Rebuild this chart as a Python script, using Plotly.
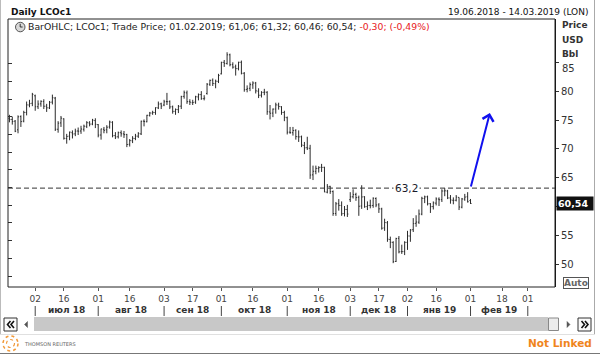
import numpy as np
import pandas as pd
import plotly.graph_objects as go

FONT = "DejaVu Sans"

# ---------------- data ----------------
HOLIDAYS = ["2018-12-25", "2019-01-01"]
FIRST_DAY, LAST_DAY = "2018-06-19", "2019-02-01"
VIEW_START, VIEW_END = "2018-06-18", "2019-03-14"

open_prices = [
    # Jun
    75.3, 75.1, 74.8, 73.3, 75.6, 74.8, 76.3, 77.6, 77.9,
    # Jul
    79.2, 77.3, 77.8, 78.2, 77.4, 77.1, 78.1, 78.8, 73.4, 74.5, 75.2, 71.8, 72.2, 72.8, 72.6, 73.1,
    73.1, 73.4, 73.9, 74.5, 74.3, 74.9,
    # Aug
    74.2, 72.4, 73.4, 73.3, 73.8, 74.6, 72.3, 72.1, 72.8, 72.6, 72.5, 70.8, 71.4, 71.8, 72.2, 72.6,
    74.8, 74.7, 75.8, 76.2, 76.3, 77.1, 77.8,
    # Sep
    77.6, 78.2, 78.2, 77.3, 76.5, 76.8, 77.4, 79.1, 79.7, 78.2, 78.0, 78.1, 79.0, 79.4, 78.7, 79.6,
    81.2, 81.9, 81.3, 81.7,
    # Oct
    83.0, 85.0, 84.8, 86.3, 84.6, 84.2, 83.9, 85.0, 83.1, 80.3, 80.5, 81.1, 81.4, 80.0, 79.3, 79.8,
    79.8, 76.4, 76.2, 76.9, 77.6, 77.3, 76.3,
    # Nov
    75.4, 72.9, 72.8, 73.2, 72.1, 72.1, 70.6, 70.2, 70.1, 65.5, 66.1, 66.6, 66.8, 66.8, 62.5, 63.5,
    62.6, 58.8, 60.5, 60.2, 58.8, 59.5,
    # Dec
    61.2, 61.7, 62.1, 61.6, 60.1, 61.7, 60.0, 60.2, 60.2, 61.4, 60.3, 59.6, 56.3, 57.2, 54.3, 53.8,
    50.5, 54.5, 52.2, 52.2,
    # Jan
    53.8, 54.9, 56.0, 57.1, 57.3, 58.7, 61.4, 61.7, 60.5, 60.0, 60.6, 61.3, 61.2, 62.7, 62.7, 61.5,
    61.1, 61.1, 61.6, 59.9, 61.3, 61.7,
    # Feb
    61.06,
]
high_prices = [
    75.9, 75.6, 75.0, 75.8, 75.8, 76.6, 78.2, 78.5, 79.7,
    79.4, 78.4, 78.4, 78.6, 77.8, 78.3, 79.4, 79.0, 74.8, 75.7, 75.3, 72.6, 73.0, 73.2, 73.5, 73.7,
    74.0, 74.2, 74.8, 74.8, 75.2, 75.3,
    74.3, 73.5, 73.8, 74.1, 74.9, 74.8, 72.9, 73.0, 73.2, 73.1, 72.6, 71.7, 72.2, 72.6, 72.9, 74.9,
    75.1, 75.9, 76.4, 76.6, 77.2, 78.2, 78.0,
    78.5, 79.7, 78.4, 77.5, 77.0, 77.6, 79.2, 80.1, 80.1, 78.6, 78.5, 79.2, 79.6, 80.0, 79.3, 81.4,
    82.0, 82.2, 82.0, 83.0,
    85.1, 85.4, 86.74, 86.5, 85.0, 84.6, 85.1, 85.3, 83.3, 81.0, 81.5, 81.7, 81.6, 80.5, 80.0, 80.4,
    80.0, 77.6, 77.0, 78.0, 78.0, 77.4, 76.6,
    75.6, 73.8, 73.8, 73.4, 73.2, 72.3, 71.2, 72.1, 70.7, 67.1, 67.1, 67.0, 67.4, 66.9, 63.9, 63.6,
    62.8, 60.8, 61.3, 60.9, 60.1, 60.3,
    62.5, 63.0, 62.4, 61.9, 63.7, 61.8, 60.9, 61.2, 61.6, 61.6, 60.6, 59.8, 57.9, 57.5, 54.8, 54.0,
    54.6, 54.9, 53.4, 54.0,
    55.8, 56.1, 58.0, 58.5, 59.5, 61.7, 61.9, 61.9, 60.6, 60.9, 61.6, 61.6, 63.0, 63.2, 62.9, 62.0,
    61.6, 62.0, 61.6, 61.5, 62.2, 62.5,
    61.32,
]
low_prices = [
    74.6, 74.2, 72.9, 72.7, 73.8, 74.6, 75.8, 77.2, 77.4,
    76.6, 76.9, 77.3, 76.9, 76.4, 76.9, 77.7, 73.1, 72.8, 73.8, 71.6, 70.9, 71.5, 71.8, 72.2, 72.4,
    72.6, 73.0, 73.6, 73.9, 74.1, 73.6,
    72.0, 71.6, 72.7, 72.7, 73.5, 72.0, 71.7, 71.8, 72.1, 71.9, 70.3, 70.4, 71.0, 71.5, 71.9, 72.4,
    73.9, 74.6, 75.6, 75.9, 75.9, 76.9, 76.9,
    77.4, 77.6, 76.9, 76.1, 75.9, 76.2, 76.9, 78.7, 77.8, 77.6, 77.6, 77.8, 78.4, 78.5, 78.4, 79.4,
    80.9, 80.9, 80.5, 81.4,
    82.9, 84.2, 84.6, 84.3, 83.9, 82.7, 83.6, 82.9, 79.9, 79.8, 80.0, 80.4, 79.6, 78.8, 78.9, 79.3,
    75.9, 75.1, 75.5, 76.1, 76.8, 75.9, 74.8,
    72.5, 72.6, 72.3, 71.6, 71.2, 70.3, 69.1, 69.8, 64.8, 64.6, 65.6, 65.9, 66.0, 62.5, 62.3, 62.2,
    58.4, 58.4, 59.3, 58.4, 58.3, 58.2,
    60.8, 61.4, 61.0, 58.4, 59.6, 59.8, 59.4, 59.7, 59.8, 59.9, 58.9, 56.0, 55.8, 53.9, 52.8, 50.2,
    50.4, 51.9, 51.8, 51.6,
    52.5, 53.9, 55.6, 56.5, 57.0, 58.5, 60.6, 60.2, 58.9, 59.5, 60.2, 60.1, 60.8, 61.8, 61.3, 60.5,
    60.4, 60.9, 59.4, 59.7, 61.0, 60.7,
    60.46,
]
close_prices = [
    75.08, 74.74, 73.05, 75.55, 74.73, 76.31, 77.62, 77.85, 79.44,
    77.30, 77.76, 78.24, 77.39, 77.11, 78.07, 78.86, 73.40, 74.45, 75.33, 71.84, 72.16, 72.90, 72.58,
    73.07, 73.06, 73.44, 73.93, 74.54, 74.29, 74.97, 74.25,
    72.39, 73.45, 73.21, 73.75, 74.65, 72.28, 72.07, 72.81, 72.61, 72.46, 70.76, 71.43, 71.83, 72.21,
    72.63, 74.78, 74.73, 75.82, 76.21, 76.31, 77.14, 77.77, 77.42,
    78.15, 78.17, 77.27, 76.50, 76.83, 77.37, 79.06, 79.74, 78.18, 78.09, 78.05, 79.03, 79.40, 78.70,
    78.80, 81.20, 81.87, 81.34, 81.72, 82.72,
    84.98, 84.80, 86.29, 84.58, 84.16, 83.91, 85.00, 83.09, 80.26, 80.43, 81.13, 81.41, 80.05, 79.29,
    79.78, 79.83, 76.44, 76.17, 76.89, 77.62, 77.34, 76.31, 75.47,
    72.89, 72.83, 73.17, 72.13, 72.07, 70.65, 70.18, 70.12, 65.47, 66.12, 66.62, 66.76, 66.79, 62.53,
    63.48, 62.60, 58.80, 60.48, 60.21, 58.76, 59.51, 58.71,
    61.69, 62.08, 61.56, 60.06, 61.67, 59.97, 60.20, 60.15, 61.45, 60.28, 59.61, 56.26, 57.24, 54.35,
    53.82, 50.47, 54.47, 52.16, 52.20, 53.80,
    54.91, 55.95, 57.06, 57.33, 58.72, 61.44, 61.68, 60.48, 59.99, 60.64, 61.32, 61.18, 62.70, 62.74,
    61.50, 61.14, 61.09, 61.64, 59.93, 61.32, 61.65, 60.84,
    60.54,
]

dates = pd.bdate_range(FIRST_DAY, LAST_DAY, freq="C", holidays=HOLIDAYS)
n = min(len(dates), len(open_prices), len(high_prices), len(low_prices), len(close_prices))
if not (len(dates) == len(open_prices) == len(high_prices) == len(low_prices) == len(close_prices)):
    print("LENGTH MISMATCH", len(dates), len(open_prices), len(high_prices), len(low_prices), len(close_prices))

TICK_DATES = ["2018-07-02", "2018-07-16", "2018-08-01", "2018-08-16", "2018-09-03", "2018-09-17",
              "2018-10-01", "2018-10-16", "2018-11-01", "2018-11-16", "2018-12-03", "2018-12-17",
              "2019-01-02", "2019-01-16", "2019-02-01", "2019-02-18", "2019-03-01"]
TICK_TEXT = [d[-2:] for d in TICK_DATES]
MONTH_STARTS = ["2018-07-02", "2018-08-01", "2018-09-03", "2018-10-01", "2018-11-01",
                "2018-12-03", "2019-01-02", "2019-02-01", "2019-03-01"]
MONTH_LABELS = ["июл 18", "авг 18", "сен 18", "окт 18", "ноя 18", "дек 18", "янв 19", "фев 19"]

Y_TICKS = [50, 55, 60, 65, 70, 75, 80, 85]
LEVEL = 63.2
LEVEL_LABEL_DATE = "2018-12-31 12:00"
ARROW_TIP_DATE, ARROW_TIP_VALUE = "2019-02-11 18:00", 76.2

# ---------------- geometry helpers ----------------
W, H = 600, 355
L, R, T, B = 8, 555, 19, 287
Y_MIN, Y_MAX = 46.07, 92.5


def px(x):
    return (x - L) / (R - L)


def py(y):
    return (B - y) / (B - T)


TOTAL_TD = np.busday_count(VIEW_START, VIEW_END, holidays=HOLIDAYS)


def xfrac(d):
    return (np.busday_count(VIEW_START, d, holidays=HOLIDAYS) - 0.5) / TOTAL_TD


def fmt(v):
    return f"{v:.2f}".replace(".", ",")


def path(points, close=False):
    s = "M " + " L ".join(f"{px(x):.5f},{py(y):.5f}" for x, y in points)
    return s + (" Z" if close else "")


# ---------------- figure ----------------
fig = go.Figure()
bar_line = dict(color="#2b2b2b", width=1)
fig.add_trace(go.Ohlc(
    x=dates[:n], open=open_prices[:n], high=high_prices[:n], low=low_prices[:n], close=close_prices[:n],
    increasing=dict(line=bar_line), decreasing=dict(line=bar_line),
    tickwidth=0.35, hoverinfo="skip", showlegend=False,
))
# empty trace so that the secondary (left tick) axis gets drawn
fig.add_trace(go.Scatter(x=[], y=[], yaxis="y2", hoverinfo="skip", showlegend=False))

shapes = []
annotations = []

# plot frame
shapes.append(dict(type="rect", xref="paper", yref="paper", x0=0, x1=1, y0=0, y1=1,
                   line=dict(color="#222", width=1), layer="above"))
# horizontal level
shapes.append(dict(type="line", xref="paper", yref="y", x0=0, x1=1, y0=LEVEL, y1=LEVEL,
                   line=dict(color="#333", width=1, dash="5px,3px"), layer="above"))
annotations.append(dict(x=LEVEL_LABEL_DATE, y=LEVEL, xref="x", yref="y", text=fmt(LEVEL)[:-1],
                        showarrow=False, bgcolor="white", borderpad=1,
                        font=dict(family=FONT, size=10.5, color="#1a1a2a")))
# arrow
annotations.append(dict(x=ARROW_TIP_DATE, y=ARROW_TIP_VALUE, xref="x", yref="y",
                        ax=dates[n - 1], ay=LEVEL, axref="x", ayref="y", text="",
                        showarrow=True, arrowhead=4, arrowsize=1.1, arrowwidth=2,
                        arrowcolor="#1010ee", standoff=0, startstandoff=0))

# month separators and labels
for d in MONTH_STARTS:
    xf = xfrac(d)
    shapes.append(dict(type="line", xref="paper", yref="paper", x0=xf, x1=xf, y0=py(306), y1=py(316),
                       line=dict(color="#444", width=1)))
for i, lab in enumerate(MONTH_LABELS):
    xm = (xfrac(MONTH_STARTS[i]) + xfrac(MONTH_STARTS[i + 1])) / 2
    annotations.append(dict(x=xm, y=py(310), xref="paper", yref="paper", text=f"<b>{lab}</b>",
                            showarrow=False, xanchor="center", yanchor="middle",
                            font=dict(family=FONT, size=9, color="#333")))

# header
annotations.append(dict(x=px(9), y=py(12), xref="paper", yref="paper", text="<b>Daily LCOc1</b>",
                        showarrow=False, xanchor="left", yanchor="middle",
                        font=dict(family=FONT, size=9, color="#111")))
rng_txt = (pd.Timestamp(FIRST_DAY).strftime("%d.%m.%Y") + " - " +
           pd.Timestamp(VIEW_END).strftime("%d.%m.%Y") + " (LON)")
annotations.append(dict(x=px(590), y=py(12), xref="paper", yref="paper", text=rng_txt,
                        showarrow=False, xanchor="right", yanchor="middle",
                        font=dict(family=FONT, size=9, color="#111")))

# legend line
last_o, last_h, last_l, last_c = open_prices[n - 1], high_prices[n - 1], low_prices[n - 1], close_prices[n - 1]
prev_c = close_prices[n - 2]
chg = last_c - prev_c
pct = chg / prev_c * 100
legend_txt = (f"BarOHLC; LCOc1; Trade Price; {dates[n - 1].strftime('%d.%m.%Y')}; "
              f"{fmt(last_o)}; {fmt(last_h)}; {fmt(last_l)}; {fmt(last_c)}; "
              f"<span style='color:#e8201c'>{fmt(chg)}; ({fmt(pct)}%)</span>")
annotations.append(dict(x=px(26), y=py(27), xref="paper", yref="paper", text=legend_txt,
                        showarrow=False, xanchor="left", yanchor="middle",
                        font=dict(family=FONT, size=9.3, color="#222")))
# clock icon
shapes.append(dict(type="circle", xref="paper", yref="paper", x0=px(15.5), x1=px(25), y0=py(22.3), y1=py(31.8),
                   fillcolor="#d8d8d8", line=dict(color="#555", width=1)))
shapes.append(dict(type="line", xref="paper", yref="paper", x0=px(20.2), x1=px(20.2), y0=py(27), y1=py(23.8),
                   line=dict(color="#333", width=1)))
shapes.append(dict(type="line", xref="paper", yref="paper", x0=px(20.2), x1=px(22.6), y0=py(27), y1=py(27),
                   line=dict(color="#333", width=1)))

# right axis title
for txt, yy in (("Price", 25), ("USD", 39.5), ("Bbl", 54)):
    annotations.append(dict(x=px(560), y=py(yy), xref="paper", yref="paper", text=f"<b>{txt}</b>",
                            showarrow=False, xanchor="left", yanchor="middle",
                            font=dict(family=FONT, size=9, color="#333")))
# top tick label pushed below the axis title (as in the original)
annotations.append(dict(x=px(560), y=py(68.5), xref="paper", yref="paper", text=str(Y_TICKS[-1]),
                        showarrow=False, xanchor="left", yanchor="middle",
                        font=dict(family=FONT, size=10, color="#333")))
# last price tag
annotations.append(dict(x=px(556), y=last_c, xref="paper", yref="y", text=f"<b>{fmt(last_c)}</b>",
                        showarrow=False, xanchor="left", yanchor="middle", align="left",
                        bgcolor="#111", borderpad=1, width=34,
                        font=dict(family=FONT, size=9.5, color="white")))
# Auto box
annotations.append(dict(x=px(575.5), y=py(282.5), xref="paper", yref="paper", text="<b>Auto</b>",
                        showarrow=False, xanchor="center", yanchor="middle",
                        bordercolor="#555", borderwidth=1, borderpad=0, bgcolor="white",
                        font=dict(family=FONT, size=9, color="#666")))


# scrollbar
def rect(x0, y0, x1, y1, fill, line="rgba(0,0,0,0)", lw=1):
    shapes.append(dict(type="rect", xref="paper", yref="paper", x0=px(x0), x1=px(x1), y0=py(y1), y1=py(y0),
                       fillcolor=fill, line=dict(color=line, width=lw)))


rect(34, 317, 548, 331, "#c8c8c8")
rect(548.5, 318, 558.5, 330.5, "#ececec", "#888")
rect(4, 318, 17, 331, "#fafafa", "#333")
rect(578, 318, 591, 331, "#fafafa", "#333")
chev = dict(color="#111", width=1.6)
for cx in (7.5, 11.0):       # «
    shapes.append(dict(type="path", xref="paper", yref="paper",
                       path=path([(cx + 3, 321), (cx, 324.5), (cx + 3, 328)]), line=chev))
for cx in (588.0, 584.5):    # »
    shapes.append(dict(type="path", xref="paper", yref="paper",
                       path=path([(cx - 3, 321), (cx, 324.5), (cx - 3, 328)]), line=chev))
shapes.append(dict(type="path", xref="paper", yref="paper",
                   path=path([(27.5, 321.5), (24.5, 324.5), (27.5, 327.5)], close=True),
                   fillcolor="#555", line=dict(color="#555", width=0.5)))
shapes.append(dict(type="path", xref="paper", yref="paper",
                   path=path([(567, 321.5), (570, 324.5), (567, 327.5)], close=True),
                   fillcolor="#555", line=dict(color="#555", width=0.5)))

# outer borders / footer
shapes.append(dict(type="line", xref="paper", yref="paper", x0=px(0), x1=px(600), y0=py(353.5), y1=py(353.5),
                   line=dict(color="#777", width=1)))
shapes.append(dict(type="line", xref="paper", yref="paper", x0=px(594.5), x1=px(594.5), y0=py(0), y1=py(334),
                   line=dict(color="#aaa", width=1)))
shapes.append(dict(type="line", xref="paper", yref="paper", x0=px(0.5), x1=px(0.5), y0=py(0), y1=py(334),
                   line=dict(color="#bbb", width=1)))
shapes.append(dict(type="line", xref="paper", yref="paper", x0=px(0), x1=px(595), y0=py(334.5), y1=py(334.5),
                   line=dict(color="#e0e0e0", width=1)))
# logo
shapes.append(dict(type="circle", xref="paper", yref="paper", x0=px(3), x1=px(18), y0=py(336), y1=py(351),
                   line=dict(color="#f29a3a", width=1.5, dash="dot")))
shapes.append(dict(type="circle", xref="paper", yref="paper", x0=px(6.5), x1=px(14.5), y0=py(339.5), y1=py(347.5),
                   line=dict(color="#f29a3a", width=1.2, dash="dot")))
annotations.append(dict(x=px(21.5), y=py(344), xref="paper", yref="paper", text="THOMSON REUTERS",
                        showarrow=False, xanchor="left", yanchor="middle",
                        font=dict(family=FONT, size=5, color="#666")))
annotations.append(dict(x=px(594), y=py(342.5), xref="paper", yref="paper", text="<b>Not Linked</b>",
                        showarrow=False, xanchor="right", yanchor="middle",
                        font=dict(family=FONT, size=10.5, color="#f0851c")))

y_text = ["" if v in (60, 85) else str(v) for v in Y_TICKS]

fig.update_layout(
    width=W, height=H, autosize=False,
    margin=dict(l=L, r=W - R, t=T, b=H - B, pad=0),
    paper_bgcolor="white", plot_bgcolor="white", showlegend=False,
    font=dict(family=FONT, size=9, color="#333"),
    xaxis=dict(type="date", range=[VIEW_START + " 12:00", VIEW_END + " 12:00"],
               rangebreaks=[dict(bounds=["sat", "mon"]), dict(values=HOLIDAYS)],
               rangeslider=dict(visible=False), tickmode="array", tickvals=TICK_DATES, ticktext=TICK_TEXT,
               ticks="outside", ticklen=3, tickcolor="#555", tickfont=dict(family=FONT, size=9, color="#444"),
               showgrid=False, zeroline=False, showline=False, fixedrange=True),
    yaxis=dict(side="right", range=[Y_MIN, Y_MAX], tickmode="array", tickvals=Y_TICKS,
               ticktext=y_text, ticks="outside", ticklen=3, tickcolor="#333",
               tickfont=dict(family=FONT, size=10, color="#333"), showline=True, linecolor="#111",
               linewidth=1, showgrid=False, zeroline=False, fixedrange=True),
    yaxis2=dict(overlaying="y", side="left", range=[-0.6225, 14.544], tickmode="array",
                tickvals=list(range(13)), ticks="inside", ticklen=4, tickcolor="#333",
                showticklabels=False, showgrid=False, zeroline=False, showline=False, fixedrange=True),
    shapes=shapes, annotations=annotations,
)

fig.write_html(
    "out.html",
    config={"displayModeBar": False},
    post_script="document.body.style.margin='0';document.body.style.padding='0';"
                "document.documentElement.style.overflow='hidden';",
)
